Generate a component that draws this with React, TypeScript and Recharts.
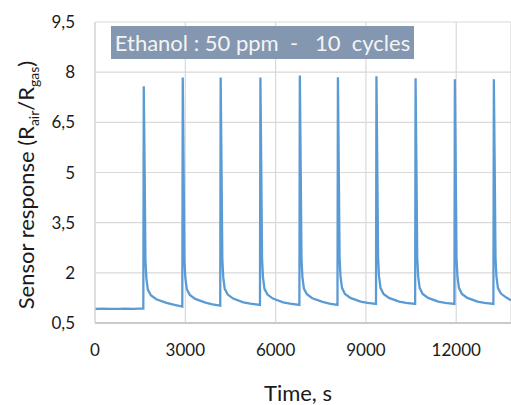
import React from "react";
import {
  LineChart,
  Line,
  XAxis,
  YAxis,
  CartesianGrid,
} from "recharts";

// time (s) and sensor response
const baselineTime = [0, 250, 500, 750, 1000, 1250, 1500, 1605];
const baselineResp = [0.92, 0.93, 0.92, 0.92, 0.93, 0.92, 0.93, 0.93];

const cycleTimes = [
  [1620, 1650, 1675, 1705, 1755, 1855, 2035, 2375, 2605, 2900],
  [2915, 2945, 2970, 3000, 3050, 3150, 3330, 3670, 3900, 4160],
  [4175, 4205, 4230, 4260, 4310, 4410, 4590, 4930, 5160, 5480],
  [5495, 5525, 5550, 5580, 5630, 5730, 5910, 6250, 6480, 6790],
  [6805, 6835, 6860, 6890, 6940, 7040, 7220, 7560, 7790, 8055],
  [8070, 8100, 8125, 8155, 8205, 8305, 8485, 8825, 9055, 9335],
  [9350, 9380, 9405, 9435, 9485, 9585, 9765, 10105, 10335, 10635],
  [10650, 10680, 10705, 10735, 10785, 10885, 11065, 11405, 11635, 11940],
  [11955, 11985, 12010, 12040, 12090, 12190, 12370, 12710, 12940, 13235],
  [13250, 13280, 13305, 13335, 13385, 13485, 13665, 13820],
];

const cycleResp = [
  [7.58, 5.0, 2.4, 1.85, 1.5, 1.33, 1.21, 1.1, 1.05, 0.99],
  [7.84, 5.0, 2.4, 1.86, 1.51, 1.34, 1.22, 1.11, 1.06, 1.02],
  [7.84, 5.0, 2.42, 1.87, 1.52, 1.35, 1.23, 1.12, 1.08, 1.04],
  [7.84, 5.0, 2.42, 1.87, 1.52, 1.35, 1.23, 1.12, 1.08, 1.04],
  [7.9, 5.0, 2.42, 1.88, 1.53, 1.36, 1.24, 1.13, 1.08, 1.04],
  [7.85, 5.0, 2.45, 1.9, 1.55, 1.37, 1.25, 1.14, 1.1, 1.07],
  [7.88, 5.0, 2.45, 1.9, 1.55, 1.37, 1.25, 1.14, 1.1, 1.07],
  [7.82, 5.0, 2.45, 1.9, 1.55, 1.37, 1.25, 1.14, 1.1, 1.07],
  [7.79, 5.0, 2.45, 1.9, 1.55, 1.37, 1.25, 1.14, 1.1, 1.07],
  [7.79, 5.0, 2.45, 1.9, 1.55, 1.38, 1.26, 1.18],
];

const xTicks = [0, 3000, 6000, 9000, 12000];
const yTicks = [0.5, 2, 3.5, 5, 6.5, 8, 9.5];
const title = "Ethanol : 50 ppm  -   10  cycles";

const data: { t: number; r: number }[] = [];
baselineTime.forEach((t, i) => data.push({ t, r: baselineResp[i] }));
cycleTimes.forEach((ts, c) =>
  ts.forEach((t, i) => data.push({ t, r: cycleResp[c][i] }))
);

const font = "Lato, 'Open Sans', sans-serif";

export default function App() {
  return (
    <div style={{ position: "absolute", left: 0, top: 0, width: 511, height: 405, fontFamily: font }}>
      <LineChart
        width={511}
        height={405}
        data={data}
        margin={{ top: 22, right: 0, bottom: 0, left: 0 }}
      >
        <CartesianGrid stroke="#d9d9d9" strokeWidth={1.2} />
        <XAxis
          dataKey="t"
          type="number"
          domain={[0, 13820]}
          ticks={xTicks}
          allowDataOverflow
          height={82}
          tickLine={false}
          tickSize={0}
          tickMargin={21}
          axisLine={{ stroke: "#bfbfbf", strokeWidth: 1.5 }}
          tick={{ fill: "#1a1a1a", fontSize: 17, fontFamily: font }}
          label={{
            content: () => (
              <text x={298} y={401} textAnchor="middle" fill="#1a1a1a" fontSize={22} fontFamily={font}>
                Time, s
              </text>
            ),
          }}
        />
        <YAxis
          type="number"
          domain={[0.5, 9.5]}
          ticks={yTicks}
          width={95}
          tickLine={false}
          tickSize={0}
          tickMargin={20}
          axisLine={{ stroke: "#d9d9d9", strokeWidth: 1.2 }}
          tick={{ fill: "#1a1a1a", fontSize: 17, fontFamily: font }}
          tickFormatter={(v: number) => String(v).replace(".", ",")}
          label={{
            content: () => (
              <text
                x={34}
                y={185}
                transform="rotate(-90 34 185)"
                textAnchor="middle"
                fill="#1a1a1a"
                fontSize={22}
                fontFamily={font}
              >
                Sensor response (R
                <tspan dy={5} fontSize={14}>air</tspan>
                <tspan dy={-5}>/R</tspan>
                <tspan dy={5} fontSize={14}>gas</tspan>
                <tspan dy={-5}>)</tspan>
              </text>
            ),
          }}
        />
        <Line
          type="linear"
          dataKey="r"
          stroke="#5b9bd5"
          strokeWidth={2.3}
          dot={false}
          isAnimationActive={false}
        />
      </LineChart>
      <div
        style={{
          position: "absolute",
          left: 111,
          top: 26,
          width: 303,
          height: 33,
          background: "#8497b0",
          color: "#f4f4f4",
          fontSize: 22,
          lineHeight: "33px",
          textAlign: "center",
          whiteSpace: "pre",
          fontFamily: font,
        }}
      >
        {title}
      </div>
    </div>
  );
}
